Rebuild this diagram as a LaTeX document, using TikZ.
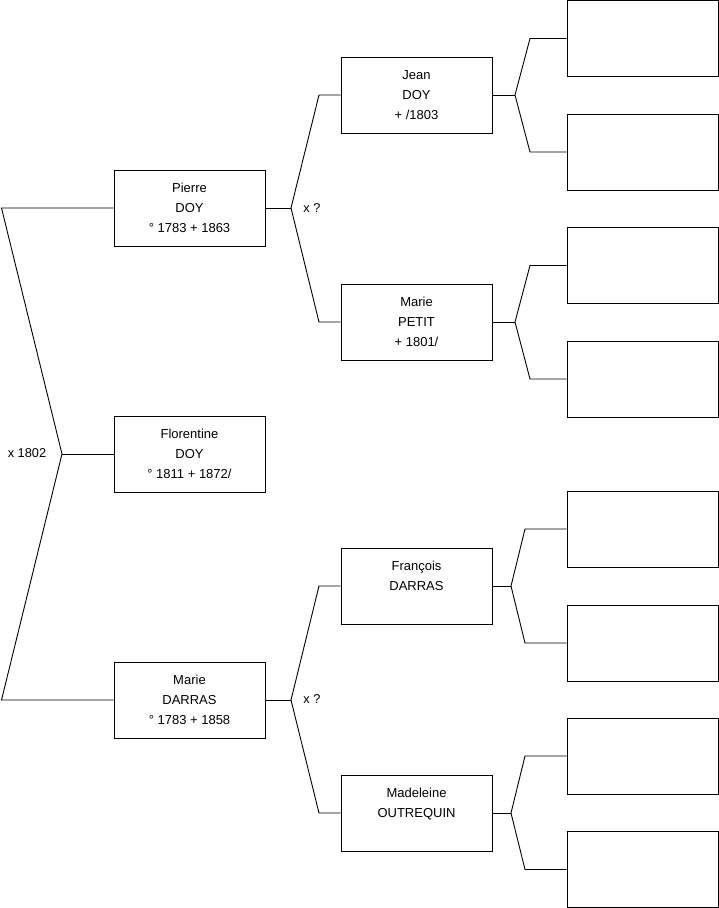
\documentclass[tikz,border=0pt]{standalone}
\usepackage{fontspec}
\setmainfont{Liberation Sans}
\begin{document}
\begin{tikzpicture}[x=1pt,y=-1pt,
  person/.style={draw=black, line width=1pt, minimum width=151pt, minimum height=76pt, inner sep=0pt, align=center, font=\fontsize{13}{20}\selectfont},
  link/.style={line width=0.9pt, draw=black},
  mlabel/.style={inner sep=0pt, font=\fontsize{12.8}{14}\selectfont}]
\useasboundingbox (0,0) rectangle (719,908);
% generation 1
\node[person] (flo) at (189.5,454) {Florentine\\DOY\\° 1811 + 1872/};
% generation 2
\node[person] (pierre) at (189.5,208) {Pierre\\DOY\\° 1783 + 1863};
\node[person] (marie) at (189.5,700) {Marie\\DARRAS\\° 1783 + 1858};
% generation 3
\node[person] (jean) at (416.5,95) {Jean\\DOY\\+ /1803};
\node[person] (petit) at (416.5,322) {Marie\\PETIT\\+ 1801/};
\node[person] (francois) at (416.5,586) {François\\DARRAS\\~};
\node[person] (madeleine) at (416.5,813) {Madeleine\\OUTREQUIN\\~};
% generation 4 (empty)
\node[person] (g1) at (642.5,38.5) {};
\node[person] (g2) at (642.5,152) {};
\node[person] (g3) at (642.5,265.5) {};
\node[person] (g4) at (642.5,379) {};
\node[person] (g5) at (642.5,529) {};
\node[person] (g6) at (642.5,643) {};
\node[person] (g7) at (642.5,756) {};
\node[person] (g8) at (642.5,869.5) {};
% marriage labels
\node[mlabel] (m0) at (27,453) {x 1802};
\node[mlabel] (m1) at (312,208) {x ?};
\node[mlabel] (m2) at (312,699) {x ?};
% fork coordinates
\coordinate (r0) at (62,454);
\coordinate (r1) at (1.5,208);
\coordinate (r2) at (1.5,700);
\coordinate (p0) at (291,208);
\coordinate (p1) at (319,95);
\coordinate (p2) at (319,322);
\coordinate (d0) at (291,700);
\coordinate (d1) at (319,586);
\coordinate (d2) at (319,813);
\coordinate (j0) at (515,95);
\coordinate (j1) at (530,38.5);
\coordinate (j2) at (530,152);
\coordinate (t0) at (515,322);
\coordinate (t1) at (530,265.5);
\coordinate (t2) at (530,379);
\coordinate (f0) at (511,586);
\coordinate (f1) at (525,529);
\coordinate (f2) at (525,643);
\coordinate (o0) at (511,813);
\coordinate (o1) at (525,756);
\coordinate (o2) at (525,869.5);
% connectors
\draw[link] (flo.west) -- (r0);
\draw[link] (pierre.west) -- (r1) -- (r0) -- (r2) -- (marie.west);
\draw[link] (pierre.east) -- (p0);
\draw[link] (jean.west) -- (p1) -- (p0) -- (p2) -- (petit.west);
\draw[link] (marie.east) -- (d0);
\draw[link] (francois.west) -- (d1) -- (d0) -- (d2) -- (madeleine.west);
\draw[link] (jean.east) -- (j0);
\draw[link] (g1.west) -- (j1) -- (j0) -- (j2) -- (g2.west);
\draw[link] (petit.east) -- (t0);
\draw[link] (g3.west) -- (t1) -- (t0) -- (t2) -- (g4.west);
\draw[link] (francois.east) -- (f0);
\draw[link] (g5.west) -- (f1) -- (f0) -- (f2) -- (g6.west);
\draw[link] (madeleine.east) -- (o0);
\draw[link] (g7.west) -- (o1) -- (o0) -- (o2) -- (g8.west);
\end{tikzpicture}
\end{document}
